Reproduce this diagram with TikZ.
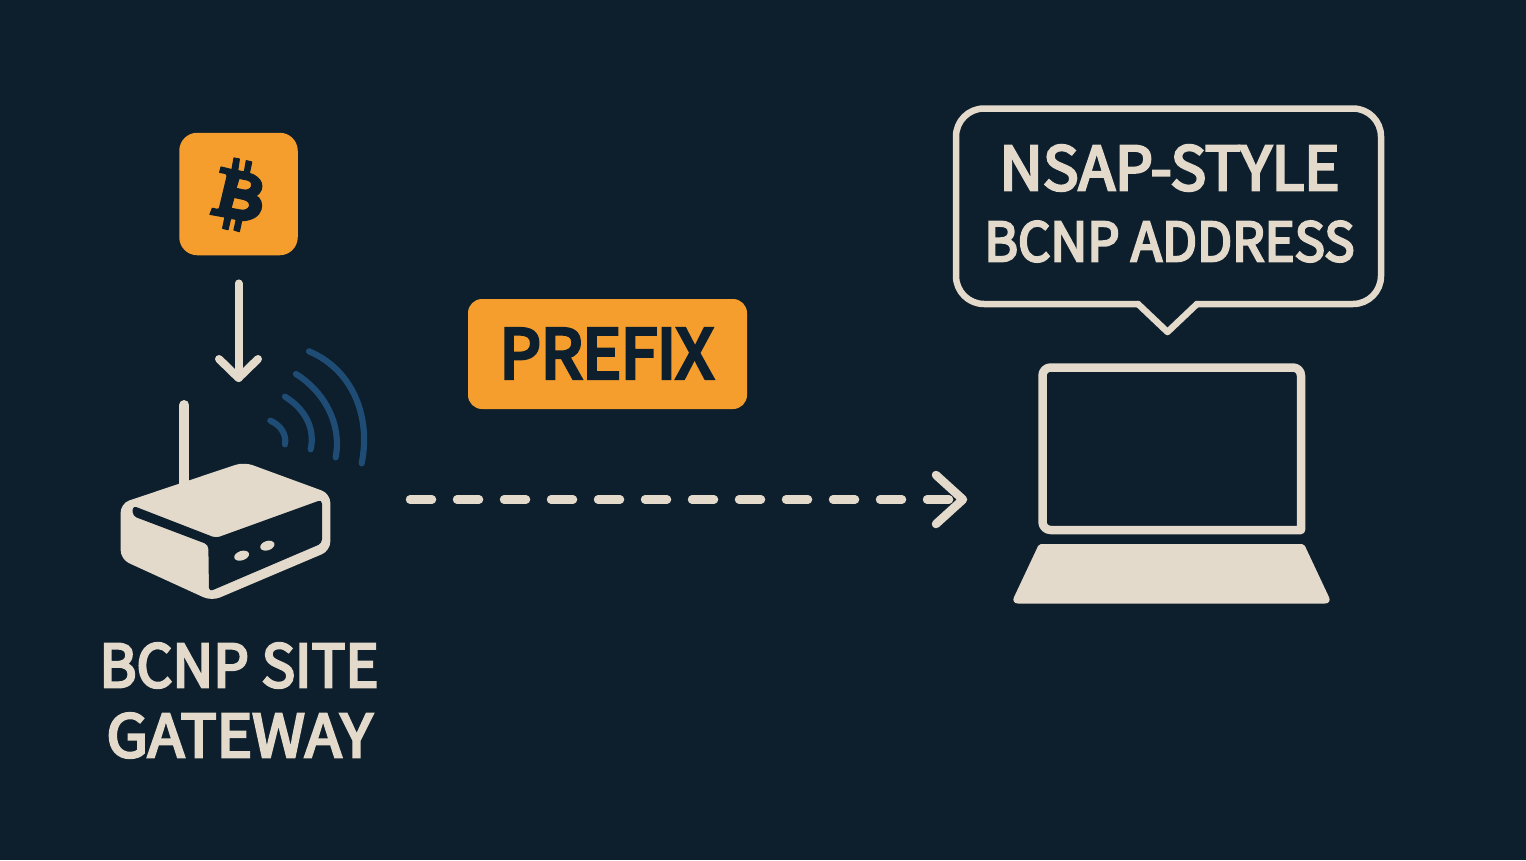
\documentclass[tikz,border=0pt]{standalone}
\usepackage{fontspec}
\usepackage{graphicx}
\setmainfont{Noto Sans}
\newfontfamily\lblfont[FakeBold=4.5]{Noto Sans CJK SC}
\newfontfamily\pfxfont[FakeBold=5.5]{Noto Sans CJK SC}
\definecolor{bgc}{HTML}{0D1E2D}
\definecolor{cream}{HTML}{E3DACB}
\definecolor{amber}{HTML}{F69E2D}
\definecolor{wave}{HTML}{1E4C74}
\newcommand{\fitlabel}[3]{\resizebox{#1pt}{#2pt}{#3}}
\tikzset{
  txt/.style={inner sep=0pt,outer sep=0pt,text=cream,anchor=center},
  wavearc/.style={draw=wave,line width=6.2pt,line cap=round},
  creamline/.style={draw=cream,line cap=round,line join=round},
  icon/.style={x=1/3*1pt,y=-1/3*1pt}
}
\begin{document}
\begin{tikzpicture}[x=1pt,y=-1pt]
\useasboundingbox (0,0) rectangle (1526,860);
\fill[bgc] (0,0) rectangle (1526,860);

% bitcoin tile
\node[fill=amber,rounded corners=18pt,minimum width=118.5pt,minimum height=122.5pt,inner sep=0pt] (btc) at (238.5,194) {};
\begin{scope}[shift={(160,120)},icon]
\filldraw[bgc,even odd rule,line width=1.2pt,line join=round]
 (183,141) -- (216,149) -- (222,114) -- (238,117) -- (233,152) -- (253,156) -- (259,122) -- (275,126) -- (268,160)
 .. controls (305,170) and (320,205) .. (288,228)
 .. controls (315,240) and (315,300) .. (245,302)
 -- (238,335) -- (222,330) -- (229,298) -- (212,295) -- (204,329) -- (188,325) -- (195,291) -- (150,283) -- (157,265) -- (172,268)
 .. controls (177,268) and (178,265) .. (179,262)
 -- (201,170) .. controls (202,164) and (200,162) .. (195,160)
 -- (179,157) -- cycle
 (237,175) -- (262,180) .. controls (287,187) and (275,215) .. (250,210) -- (228,205) -- cycle
 (222,232) -- (250,238) .. controls (282,245) and (270,277) .. (240,270) -- (213,265) -- cycle;
\end{scope}

% arrow into router
\coordinate (rtop) at (238.5,378);
\draw[creamline,line width=8pt,shorten <=28pt] (btc.south) -- (rtop);
\draw[creamline,line width=8pt] (219,359) -- (rtop) -- (258,359);

% router
\begin{scope}[shift={(90,330)},icon]
\draw[creamline,line width=10pt] (283,225) -- (283,470);
\fill[cream,rounded corners=9pt] (462,396) -- (721,491) -- (721,662) -- (365,813) -- (92,688) -- (92,520) -- cycle;
\fill[bgc,rounded corners=4pt] (128,527) -- (378,624) -- (696,509) -- (696,640) -- (357,785) -- (355,644) -- (128,558) -- cycle;
\fill[cream,rotate around={18:(455,677)}] (455,677) ellipse [x radius=23,y radius=14];
\fill[cream,rotate around={18:(532,647)}] (532,647) ellipse [x radius=22,y radius=14];
\draw[wavearc] (541,272) .. controls (570,285) and (590,310) .. (585,343);
\draw[wavearc] (585,200) .. controls (650,240) and (675,300) .. (662,358);
\draw[wavearc] (618,132) .. controls (710,190) and (755,290) .. (737,382);
\draw[wavearc] (657,64) .. controls (780,115) and (845,250) .. (815,400);
\end{scope}

% labels under router
\node[txt] (gw1) at (239,665.5) {\fitlabel{279}{44}{\lblfont BCNP SITE}};
\node[txt] (gw2) at (239.5,735.5) {\fitlabel{266}{44}{\lblfont GATEWAY}};

% prefix tag
\node[fill=amber,rounded corners=14pt,minimum width=279pt,minimum height=110pt,inner sep=0pt] (pfx) at (607.5,354) {};
\node[txt,text=bgc] (pfxt) at (606.5,353.5) {\fitlabel{214}{49.5}{\pfxfont PREFIX}};

% dashed connector
\coordinate (from) at (410,499.5);
\coordinate (to) at (963,499.5);
\draw[creamline,line width=8.5pt,dash pattern=on 22pt off 25pt] (from) -- (to);
\draw[creamline,line width=8.5pt] (936,475) -- (to) -- (936,524);

% laptop
\draw[creamline,line width=8.5pt,rounded corners=8pt] (1170,530) -- (1042.5,530) [sharp corners] -- (1042.5,450) [rounded corners=8pt] -- (1042.5,367.5) -- (1301,367.5) -- (1301,450) [sharp corners] -- (1301,530) -- cycle;
\fill[cream] [rounded corners=2pt] (1039,544) -- (1304,544) [rounded corners=7pt] -- (1332,603.5) -- (1011,603.5) [rounded corners=2pt] -- cycle;

% speech bubble
\draw[creamline,line width=6.5pt,rounded corners=28pt] (1138,304) -- (956,304) -- (956,108.5) -- (1381,108.5) -- (1381,304) -- (1197,304);
\draw[creamline,line width=6.5pt] (1138,304) -- (1167.5,332) -- (1197,304);
\node[txt] (addr1) at (1169.5,168) {\fitlabel{340}{45}{\lblfont NSAP-STYLE}};
\node[txt] (addr2) at (1169.5,241.5) {\fitlabel{370}{40}{\lblfont BCNP ADDRESS}};
\end{tikzpicture}
\end{document}
